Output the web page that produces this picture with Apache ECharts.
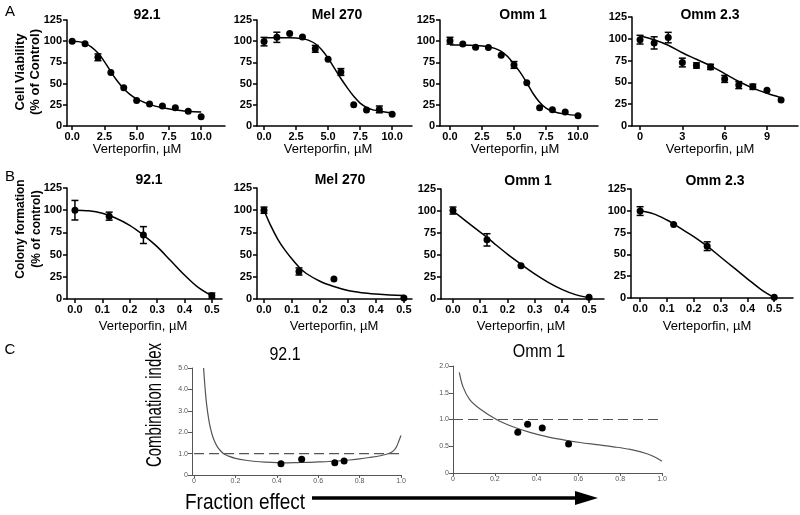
<!DOCTYPE html>
<html><head><meta charset="utf-8">
<script src="https://cdn.jsdelivr.net/npm/echarts@6/dist/echarts.min.js"></script>
<style>html,body{margin:0;padding:0;background:#fff}#c{width:800px;height:515px}</style>
</head><body><div id="c"></div><script>
// ---------- Row A : cell viability ----------
const doseA = [0,1,2,3,4,5,6,7,8,9,10];
const a921 = [100,97,81,63,45,30,26,23.5,21.5,17.5,11];
const a921Err = [0,0,4,0,0,0,0,0,0,0,0];
const a921FitX = [0,0.5,1,1.5,2,2.5,3,3.5,4,4.5,5,6,7,8,9,10];
const a921FitY = [100,99.5,97.5,93,86,76,64,53,44,37,32,25.5,21.5,19,17.5,16.5];

const aMel = [99.5,104.6,109,105,91,78.6,63.7,25,19,19.6,13.8];
const aMelErr = [5,6,0,0,4,0,4,0,0,4,0];
const aMelFitX = [0,1,2,3,3.5,4,4.5,5,5.5,6,6.5,7,7.5,8,8.5,9,10];
const aMelFitY = [104,104,104,103,101,97,90,80,68,56,45,35,27,22,19,17.5,15.5];

const aOmm1 = [100.6,96.7,92.8,92.5,83.5,72,51,21.6,19.3,16.5,12.2];
const aOmm1Err = [4,0,0,0,0,4,0,0,0,0,0];
const aOmm1FitX = [0,1,2,3,3.5,4,4.5,5,5.5,6,6.5,7,7.5,8,9,10];
const aOmm1FitY = [95.5,95.5,95,93.5,91.5,88,82,73,63,51,38,28,21,17.5,14,12.5];

const aOmm23 = [99,95.3,101.4,72.8,69.4,67.8,54,46.9,45,41,29.7];
const aOmm23Err = [5,7,6,5,3,3,4,4,3,0,0];
const aOmm23FitX = [0,1,2,3,4,5,6,7,8,9,10];
const aOmm23FitY = [103.6,99,92.6,84,76.5,69,60,51,43.5,37.5,32.5];

// ---------- Row B : colony formation ----------
const doseB = [0,0.125,0.25,0.5];
const b921 = [100,93.3,72,3.7];
const b921Err = [11,4.5,9.5,3];
const b921FitX = [0,0.05,0.1,0.15,0.2,0.25,0.3,0.35,0.4,0.45,0.5];
const b921FitY = [100,99.3,96.5,91,83,72,59,43,27,13,3.5];

const bMel = [100,31,22.4,1];
const bMelErr = [3.5,4,0,0];
const bMelFitX = [0,0.025,0.05,0.075,0.1,0.125,0.15,0.2,0.25,0.3,0.35,0.4,0.45,0.5];
const bMelFitY = [100,82,67,55,45,36,29,20,14,9.5,7,5.5,4.5,4];

const bOmm1 = [100.5,67.2,37.8,1.9];
const bOmm1Err = [4,7,0,0];
const bOmm1FitX = [0,0.05,0.1,0.125,0.15,0.2,0.25,0.3,0.35,0.4,0.45,0.5];
const bOmm1FitY = [100,88,76,70,63.5,51,39.5,28.5,19,11,5,1.5];

const bOmm23 = [99.7,84.4,59.4,0.8];
const bOmm23Err = [5,0,5,0];
const bOmm23FitX = [0,0.05,0.1,0.125,0.15,0.2,0.25,0.3,0.35,0.4,0.45,0.5];
const bOmm23FitY = [100,96.5,89.5,85,80,70.5,59.5,47,34.5,22,10,0.5];

// ---------- Row C : combination index ----------
const c921Fa = [0.42,0.52,0.68,0.725];
const c921Ci = [0.52,0.74,0.57,0.65];
const c921CurveFa = [0.046,0.05,0.055,0.06,0.07,0.08,0.09,0.1,0.11,0.12,0.13,0.14,0.15,0.17,0.2,0.25,0.3,0.35,0.4,0.45,0.5,0.55,0.6,0.65,0.7,0.75,0.8,0.85,0.9,0.93,0.95,0.97,0.98,0.99,1.0];
const c921CurveCi = [5.0,4.45,3.85,3.35,2.65,2.15,1.8,1.55,1.36,1.22,1.11,1.02,0.96,0.87,0.78,0.69,0.63,0.6,0.58,0.57,0.58,0.59,0.61,0.63,0.66,0.7,0.75,0.82,0.9,0.97,1.04,1.2,1.35,1.6,1.85];
const cOmmFa = [0.31,0.357,0.427,0.553];
const cOmmCi = [0.76,0.91,0.84,0.54];
const cOmmCurveFa = [0.03,0.048,0.08,0.128,0.208,0.29,0.368,0.448,0.528,0.608,0.688,0.768,0.848,0.928,0.97,1.0];
const cOmmCurveCi = [1.88,1.61,1.37,1.2,1.0,0.86,0.76,0.68,0.62,0.57,0.53,0.49,0.44,0.36,0.29,0.22];
const ciRefFa = [0,1];
const ciRef = [1,1];

// tick labels
const ticksA = [0,2.5,5,7.5,10];
const ticksA23 = [0,3,6,9];
const ticksB = [0,0.1,0.2,0.3,0.4,0.5];
const ticksC = [0,0.2,0.4,0.6,0.8,1.0];

const titlesA = ['92.1','Mel 270','Omm 1','Omm 2.3'];
const titlesC = ['92.1','Omm 1'];

const FF = 'Liberation Sans, Arial, sans-serif';
const pairs = (xs, ys) => xs.map((x,i)=>[x, ys[i]]);

// layout
const gridsDef = [
  {left:67,top:20,width:158,height:106},
  {left:257,top:20,width:155,height:106},
  {left:440,top:20,width:158,height:106},
  {left:632,top:17,width:166,height:109},
  {left:67,top:188,width:155,height:111},
  {left:257,top:188,width:155,height:111},
  {left:441,top:189,width:163,height:110},
  {left:631,top:189,width:162,height:109},
  {left:192,top:368,width:209,height:107},
  {left:453,top:366,width:209,height:107}
];
const xRange = [[-0.4,11.85],[-0.55,11.55],[-0.78,11.56],[-0.57,11.2],
  [-0.029,0.537],[-0.025,0.529],[-0.044,0.555],[-0.034,0.57],[-0.01,1.0],[0,1.0]];

const blackAxis = {show:true,onZero:false,lineStyle:{color:'#000',width:1.5}};
function xAxisAB(i, ticks, fmt){
  return {type:'value',gridIndex:i,min:xRange[i][0],max:xRange[i][1],
    axisLine:blackAxis,
    axisTick:{show:true,customValues:ticks,length:4,lineStyle:{color:'#000',width:1.5}},
    axisLabel:{customValues:ticks,formatter:fmt,fontFamily:FF,fontWeight:'bold',fontSize:11,color:'#000',margin:5},
    splitLine:{show:false}};
}
function yAxisAB(i){
  return {type:'value',gridIndex:i,min:0,max:125,interval:25,
    axisLine:blackAxis,
    axisTick:{show:true,length:4,lineStyle:{color:'#000',width:1.5}},
    axisLabel:{fontFamily:FF,fontWeight:'bold',fontSize:11,color:'#000',margin:5},
    splitLine:{show:false}};
}
const fmtC = v => v===0 ? '0' : v.toFixed(1);
function xAxisC(i){
  return {type:'value',gridIndex:i,min:xRange[i][0],max:xRange[i][1],
    axisLine:{show:true,onZero:false,lineStyle:{color:'#555',width:1}},
    axisTick:{show:true,customValues:ticksC,length:3,lineStyle:{color:'#555'}},
    axisLabel:{customValues:ticksC,formatter:fmtC,fontFamily:FF,fontSize:7,color:'#555',margin:3},
    splitLine:{show:false}};
}
function yAxisC(i,max,interval){
  return {type:'value',gridIndex:i,min:0,max:max,interval:interval,
    axisLine:{show:true,onZero:false,lineStyle:{color:'#555',width:1}},
    axisTick:{show:true,length:4,lineStyle:{color:'#555'}},
    axisLabel:{formatter:fmtC,fontFamily:FF,fontSize:7,color:'#555',margin:4},
    splitLine:{show:false}};
}

const fmt1 = v => v.toFixed(1);
const fmt0 = v => String(v);
const xAxes = [
  xAxisAB(0,ticksA,fmt1), xAxisAB(1,ticksA,fmt1), xAxisAB(2,ticksA,fmt1), xAxisAB(3,ticksA23,fmt0),
  xAxisAB(4,ticksB,fmt1), xAxisAB(5,ticksB,fmt1), xAxisAB(6,ticksB,fmt1), xAxisAB(7,ticksB,fmt1),
  xAxisC(8), xAxisC(9)
];
const yAxes = [yAxisAB(0),yAxisAB(1),yAxisAB(2),yAxisAB(3),yAxisAB(4),yAxisAB(5),yAxisAB(6),yAxisAB(7),
  yAxisC(8,5,1), yAxisC(9,2,0.5)];

function fitSeries(i, xs, ys, color, width){
  return {type:'line',xAxisIndex:i,yAxisIndex:i,data:pairs(xs,ys),showSymbol:false,smooth:0.35,
    lineStyle:{color:color||'#000',width:width||1.5},clip:false,z:2,silent:true};
}
function dotSeries(i, xs, ys, size){
  return {type:'scatter',xAxisIndex:i,yAxisIndex:i,data:pairs(xs,ys),symbol:'circle',symbolSize:size||7,
    itemStyle:{color:'#000',opacity:1},z:4,silent:true};
}
function errSeries(i, xs, ys, es){
  const data = [];
  xs.forEach((x,k)=>{ if(es[k]>0) data.push([x, ys[k]-es[k], ys[k]+es[k]]); });
  return {type:'custom',xAxisIndex:i,yAxisIndex:i,data,z:3,silent:true,
    encode:{x:0,y:[1,2]},
    renderItem(params, api){
      const x = api.value(0);
      const lo = api.coord([x, api.value(1)]);
      const hi = api.coord([x, api.value(2)]);
      const w = 3.5, st = {stroke:'#000',lineWidth:1.5};
      return {type:'group',children:[
        {type:'line',shape:{x1:lo[0],y1:lo[1],x2:hi[0],y2:hi[1]},style:st},
        {type:'line',shape:{x1:lo[0]-w,y1:lo[1],x2:lo[0]+w,y2:lo[1]},style:st},
        {type:'line',shape:{x1:hi[0]-w,y1:hi[1],x2:hi[0]+w,y2:hi[1]},style:st}
      ]};
    }};
}

const series = [
  fitSeries(0,a921FitX,a921FitY), errSeries(0,doseA,a921,a921Err), dotSeries(0,doseA,a921),
  fitSeries(1,aMelFitX,aMelFitY), errSeries(1,doseA,aMel,aMelErr), dotSeries(1,doseA,aMel),
  fitSeries(2,aOmm1FitX,aOmm1FitY), errSeries(2,doseA,aOmm1,aOmm1Err), dotSeries(2,doseA,aOmm1),
  fitSeries(3,aOmm23FitX,aOmm23FitY), errSeries(3,doseA,aOmm23,aOmm23Err), dotSeries(3,doseA,aOmm23),
  fitSeries(4,b921FitX,b921FitY), errSeries(4,doseB,b921,b921Err), dotSeries(4,doseB,b921),
  fitSeries(5,bMelFitX,bMelFitY), errSeries(5,doseB,bMel,bMelErr), dotSeries(5,doseB,bMel),
  fitSeries(6,bOmm1FitX,bOmm1FitY), errSeries(6,doseB,bOmm1,bOmm1Err), dotSeries(6,doseB,bOmm1),
  fitSeries(7,bOmm23FitX,bOmm23FitY), errSeries(7,doseB,bOmm23,bOmm23Err), dotSeries(7,doseB,bOmm23),
  fitSeries(8,c921CurveFa,c921CurveCi,'#555',1.2), dotSeries(8,c921Fa,c921Ci,7),
  {type:'line',xAxisIndex:8,yAxisIndex:8,data:pairs(ciRefFa,ciRef),showSymbol:false,
    lineStyle:{color:'#555',width:1.2,type:[10,5]},silent:true},
  fitSeries(9,cOmmCurveFa,cOmmCurveCi,'#555',1.2), dotSeries(9,cOmmFa,cOmmCi,7),
  {type:'line',xAxisIndex:9,yAxisIndex:9,data:pairs(ciRefFa,ciRef),showSymbol:false,
    lineStyle:{color:'#555',width:1.2,type:[10,5]},silent:true}
];

function txt(x,y,text,o){
  o = o||{};
  return {type:'text',x:x,y:y,rotation:o.rot||0,scaleX:o.sx||1,scaleY:o.sy||1,silent:true,
    style:{text:text,fontFamily:FF,fontSize:o.size||13,fontWeight:o.weight||'normal',fill:o.color||'#000',
      align:'center',verticalAlign:'middle'}};
}
const R = Math.PI/2;
const graphics = [
  txt(10,12,'A',{size:15}), txt(10,177,'B',{size:15}), txt(10,350,'C',{size:15}),
  // row A titles
  txt(147,15,titlesA[0],{size:14,weight:'bold'}), txt(337,15,titlesA[1],{size:14,weight:'bold'}),
  txt(523,15,titlesA[2],{size:14,weight:'bold'}), txt(710,15,titlesA[3],{size:14,weight:'bold'}),
  // row B titles
  txt(149,180,titlesA[0],{size:14,weight:'bold'}), txt(340,180,titlesA[1],{size:14,weight:'bold'}),
  txt(528,181,titlesA[2],{size:14,weight:'bold'}), txt(715,181,titlesA[3],{size:14,weight:'bold'}),
  // x axis names
  txt(137,149,'Verteporfin, µM'), txt(328,149,'Verteporfin, µM'), txt(515,149,'Verteporfin, µM'), txt(710,149,'Verteporfin, µM'),
  txt(143,326,'Verteporfin, µM'), txt(334,326,'Verteporfin, µM'), txt(521,326,'Verteporfin, µM'), txt(707,326,'Verteporfin, µM'),
  // y names
  txt(20,72,'Cell Viability',{rot:R,weight:'bold'}), txt(35,72,'(% of Control)',{rot:R,weight:'bold'}),
  txt(21,229,'Colony formation',{rot:R,weight:'bold',size:12}), txt(37,229,'(% of control)',{rot:R,weight:'bold',size:12}),
  // row C
  txt(285,355,titlesC[0],{size:16,sy:1.15}), txt(539,352,titlesC[1],{size:16,sy:1.15}),
  txt(155,405,'Combination index',{rot:R,size:20,sx:0.75,sy:1.1}),
  txt(245,503,'Fraction effect',{size:19,sy:1.15}),
  {type:'line',silent:true,shape:{x1:312,y1:498,x2:578,y2:498},style:{stroke:'#000',lineWidth:3.5}},
  {type:'polygon',silent:true,shape:{points:[[575,491],[598,498],[575,505]]},style:{fill:'#000'}}
];

const chart = echarts.init(document.getElementById('c'), null, {renderer:'canvas'});
chart.setOption({
  animation:false,
  backgroundColor:'#fff',
  grid: gridsDef,
  xAxis: xAxes,
  yAxis: yAxes,
  series: series,
  graphic: graphics
});
</script></body></html>
